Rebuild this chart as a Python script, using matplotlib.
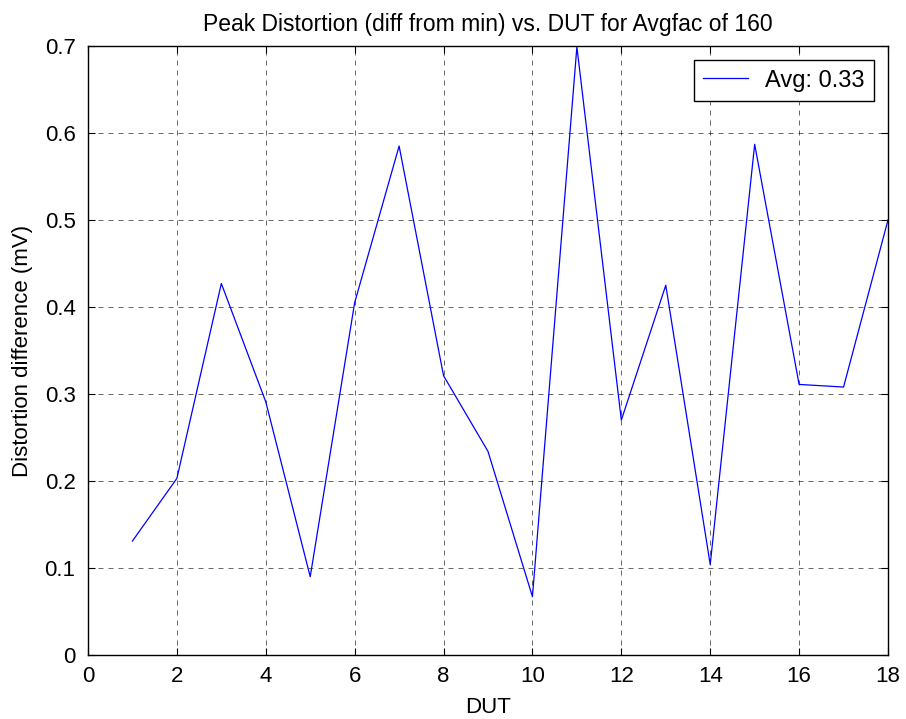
import matplotlib
matplotlib.use('Agg')
import matplotlib.pyplot as plt

# DUT index and peak distortion difference (mV)
dut = list(range(1, 19))
distortion = [0.131, 0.203, 0.427, 0.291, 0.090, 0.405, 0.585, 0.321, 0.234,
              0.067, 0.699, 0.270, 0.425, 0.104, 0.587, 0.311, 0.308, 0.500]
avg_label = 'Avg: 0.33'

plt.rcParams['font.family'] = ['Liberation Sans', 'DejaVu Sans']
plt.rcParams['font.size'] = 16

fig = plt.figure(figsize=(9.06, 7.19), dpi=100)
ax = fig.add_axes([88 / 906, 1 - 655 / 719, 800 / 906, 609 / 719])

ax.plot(dut, distortion, color='#0000ff', linewidth=0.9, label=avg_label)

ax.set_xlim(0, 18)
ax.set_ylim(0, 0.7)
ax.set_xticks(range(0, 19, 2))
ax.set_yticks([0, 0.1, 0.2, 0.3, 0.4, 0.5, 0.6, 0.7])
ax.set_yticklabels(['0', '0.1', '0.2', '0.3', '0.4', '0.5', '0.6', '0.7'])
ax.tick_params(direction='in', length=5, top=True, right=True, width=0.8)
ax.tick_params(axis='x', pad=8)
ax.tick_params(axis='y', pad=9)
ax.grid(True, color='black', linestyle=(0, (6, 6)), linewidth=0.6, alpha=0.7)
for s in ax.spines.values():
    s.set_linewidth(1.0)

ax.set_title('Peak Distortion (diff from min) vs. DUT for Avgfac of 160', fontsize=16.5, pad=11)
ax.set_xlabel('DUT', labelpad=7)
ax.set_ylabel('Distortion difference (mV)', labelpad=8)

leg = ax.legend(loc='upper right', fancybox=False, framealpha=1, edgecolor='black',
                borderaxespad=0.6, handlelength=1.9, handletextpad=0.7,
                borderpad=0.4, fontsize=17)
leg.get_frame().set_linewidth(1.0)

fig.savefig('out.png', dpi=100)
